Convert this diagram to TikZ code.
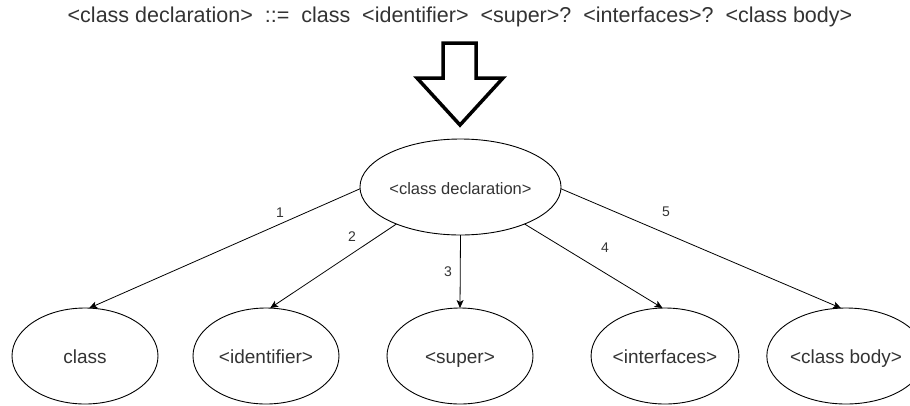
\documentclass[tikz,border=0pt]{standalone}
\usepackage{fontspec}
\setmainfont{Liberation Sans}
\usetikzlibrary{arrows.meta,shapes.geometric}
\begin{document}
\begin{tikzpicture}[x=1pt,y=-1pt,
  txt/.style={text=black!80},
  rootnode/.style={draw, ellipse, line width=0.9pt, outer sep=0pt, inner sep=0pt,
    minimum width=167pt, minimum height=96pt, txt, text height=17pt, text depth=2.5pt,
    font=\fontsize{16.5}{19}\selectfont},
  leafnode/.style={draw, ellipse, line width=0.9pt, outer sep=0pt, inner sep=0pt,
    minimum width=146pt, minimum height=96pt, txt, text height=18.5pt, text depth=3pt,
    font=\fontsize{19}{22}\selectfont},
  edge/.style={draw, line width=0.8pt, -{Stealth[length=8pt,width=7pt,inset=2pt]}},
  elabel/.style={txt, inner sep=0pt, font=\fontsize{14}{16}\selectfont},
  bigarrow/.style={draw, line width=3.5pt, line join=miter, fill=white}
]
\useasboundingbox (0,0) rectangle (910,405);

% grammar rule
\node[txt, inner sep=0pt, text height=15.5pt, text depth=4.5pt,
      font=\fontsize{21.5}{24}\selectfont] (rule) at (460,17)
  {<class declaration>\ \ ::=\ \ class\ \ <identifier>\ \ <super>?\ \ <interfaces>?\ \ <class body>};

% hollow arrow pointing down to the tree
\draw[bigarrow] (443,43) -- (476,43) -- (476,78) -- (503,78) -- (460,125)
  -- (417,78) -- (443,78) -- cycle;

% parse tree
\node[rootnode] (root) at (460.5,187) {<class declaration>};
\node[leafnode] (c1) at (85,356)  {class};
\node[leafnode] (c2) at (266,356) {<identifier>};
\node[leafnode] (c3) at (460,356) {<super>};
\node[leafnode] (c4) at (665,356) {<interfaces>};
\node[leafnode] (c5) at (846,356) {<class body>};

\draw[edge] (root.181) -- (c1.85);
\draw[edge] (root.210) -- (c2.85);
\draw[edge] (root.south) -- (c3.north);
\draw[edge] (root.330) -- (c4.93);
\draw[edge] (root.359) -- (c5.96);

\node[elabel] (l1) at (280,213) {1};
\node[elabel] (l2) at (352,237) {2};
\node[elabel] (l3) at (448,272) {3};
\node[elabel] (l4) at (605,248) {4};
\node[elabel] (l5) at (666,212) {5};
\end{tikzpicture}
\end{document}
